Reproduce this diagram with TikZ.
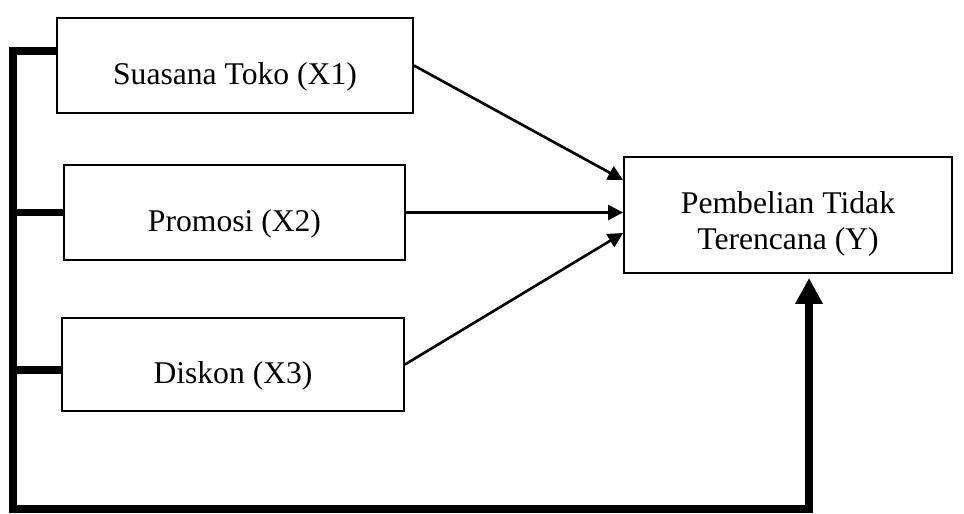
\documentclass[tikz,border=0pt]{standalone}
\usepackage{fontspec}
\setmainfont{Liberation Serif}
\usetikzlibrary{arrows.meta}

\begin{document}
\begin{tikzpicture}[x=0.02cm, y=-0.02cm,
    every node/.style={font=\fontsize{18}{20.6}\selectfont},
    varbox/.style={draw, line width=1.1pt, inner sep=0pt, minimum height=1.9cm,
                   text height=0.77cm, text depth=0pt},
    path/.style={line width=1.5pt, -{Triangle[length=8.5pt, width=8.5pt]}},
    bus/.style={line width=4.5pt}]
         \useasboundingbox (0, 0) rectangle (964, 514);
         \node [varbox, minimum width=7.12cm] (X1) at (235, 65.5) {Suasana Toko (X1)};
         \node [varbox, minimum width=6.82cm] (X2) at (234.5, 212.5) {Promosi (X2)};
         \node [varbox, minimum width=6.84cm, minimum height=1.86cm] (X3) at (233, 364.5) {Diskon (X3)};
         \node [varbox, minimum width=6.56cm, minimum height=2.32cm, align=center,
                text height=1.4cm] (Y) at (788, 215) {Pembelian Tidak\\Terencana (Y)};
         \coordinate (TL) at (13, 51);
         \coordinate (BL) at (13, 509);
         \coordinate (BR) at (809, 509);
         \draw [path] (X1.east) -- ([yshift=0.7cm]Y.west);
         \draw [path] (X2.east) -- (X2.east -| Y.west);
         \draw [path] (X3.east) -- ([yshift=-0.36cm]Y.west);
         \draw [bus] (X2.west) -- (X2.west -| TL);
         \draw [bus] ([yshift=-0.11cm]X3.west) -- ([yshift=-0.11cm]X3.west -| TL);
         \draw [bus, -{Triangle[length=14.7pt, width=14.7pt]}, shorten >=0.08cm]
               (TL -| X1.west) -- (TL) -- (BL) -- (BR) -- (BR |- Y.south);
 \end{tikzpicture}
\end{document}
